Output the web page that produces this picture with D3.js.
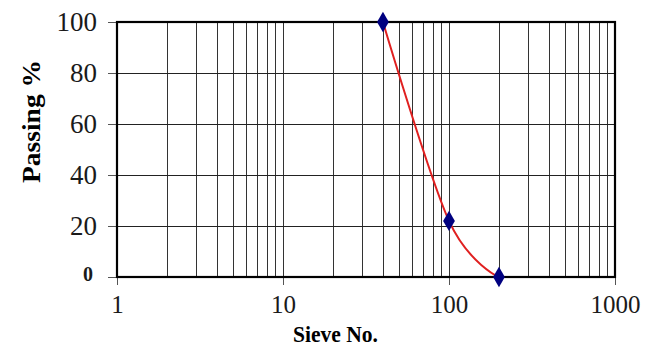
<!DOCTYPE html>
<html><head><meta charset="utf-8">
<script src="https://cdn.jsdelivr.net/npm/d3@7"></script>
<style>body{margin:0;background:#fff;} svg text{font-family:"Liberation Serif","Times New Roman",serif !important;}</style>
</head><body>
<svg id="c" width="648" height="349"></svg>
<script>
const sieve = [40, 100, 200];
const passing = [100, 22, 0];
const xTicks = [1, 10, 100, 1000];
const yTicks = [0, 20, 40, 60, 80, 100];

const svg = d3.select("#c");
const L = 117, R = 615, T = 22, B = 277;
const x = d3.scaleLog().domain([1, 1000]).range([L, R]);
const y = d3.scaleLinear().domain([0, 100]).range([B, T]);

// minor vertical grid
const minor = [];
for (let d = 1; d < 1000; d *= 10) for (let k = 2; k <= 9; k++) minor.push(d * k);
svg.append("g").selectAll("line").data(minor.concat([10, 100])).join("line")
  .attr("x1", d => Math.round(x(d)) + 0.5).attr("x2", d => Math.round(x(d)) + 0.5)
  .attr("y1", T).attr("y2", B).attr("stroke", "#333").attr("stroke-width", 1);
// horizontal grid
svg.append("g").selectAll("line").data([20, 40, 60, 80]).join("line")
  .attr("x1", L).attr("x2", R)
  .attr("y1", d => Math.round(y(d)) + 0.5).attr("y2", d => Math.round(y(d)) + 0.5)
  .attr("stroke", "#222").attr("stroke-width", 1);

// axes
const yAxis = svg.append("g").attr("transform", `translate(${L},0)`)
  .call(d3.axisLeft(y).tickValues(yTicks).tickSize(9).tickPadding(11));
yAxis.select(".domain").remove();
yAxis.selectAll("line").attr("stroke", "#555");
yAxis.selectAll("text")
  .style("font-size", d => d === 0 ? "20px" : "27px")
  .style("font-weight", d => d === 0 ? "bold" : "normal")
  .attr("x", d => d === 0 ? -24 : -20)
  .attr("dy", d => d === 0 ? "0.16em" : "0.33em")
  .attr("fill", "#1a1a1a");

const xAxis = svg.append("g").attr("transform", `translate(0,${B})`)
  .call(d3.axisBottom(x).tickValues(xTicks).tickFormat(d3.format("d")).tickSize(8).tickPadding(10));
xAxis.select(".domain").remove();
xAxis.selectAll("line").attr("stroke", "#555");
xAxis.selectAll("text").style("font-size", "25px").attr("fill", "#1a1a1a");

// frame
svg.append("rect").attr("x", L).attr("y", T).attr("width", R - L).attr("height", B - T)
  .attr("fill", "none").attr("stroke", "#000").attr("stroke-width", 2.2);

// curve
const pts = sieve.map((s, i) => [x(s), y(passing[i])]);
svg.append("path").attr("d", d3.line().curve(d3.curveCatmullRom.alpha(0))(pts))
  .attr("fill", "none").attr("stroke", "#e02020").attr("stroke-width", 2);
svg.append("g").selectAll("path").data(pts).join("path")
  .attr("d", d3.symbol().type(d3.symbolDiamond).size(120))
  .attr("transform", d => `translate(${d[0]},${d[1]})`)
  .attr("fill", "#000080");

// titles
svg.append("text").attr("transform", "translate(40,121.5) rotate(-90)")
  .attr("text-anchor", "middle").style("font-size", "25px").style("font-weight", "bold")
  .attr("textLength", 123).attr("lengthAdjust", "spacingAndGlyphs").text("Passing %");
svg.append("text").attr("x", 335.5).attr("y", 342)
  .attr("text-anchor", "middle").style("font-size", "24px").style("font-weight", "bold")
  .attr("textLength", 85).attr("lengthAdjust", "spacingAndGlyphs").text("Sieve No.");
</script>
</body></html>
